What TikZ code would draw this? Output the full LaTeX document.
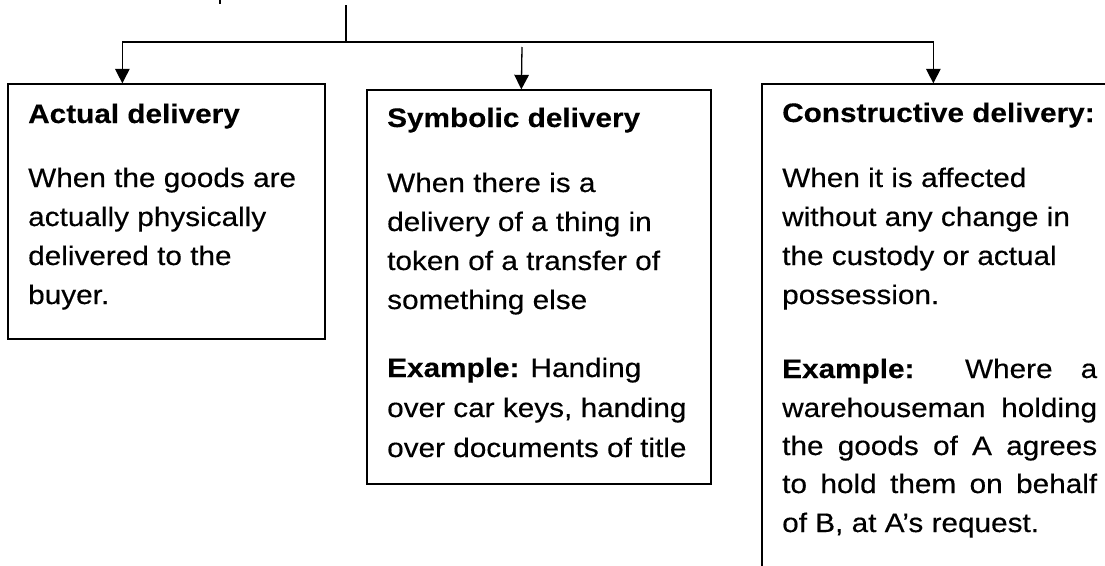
\documentclass[tikz,border=0pt]{standalone}
\usepackage{fontspec}
\setmainfont{Liberation Sans}[FakeStretch=1.11, UprightFeatures={FakeBold=0.35}, BoldFeatures={FakeBold=0.25}]
\usetikzlibrary{arrows.meta}
\tikzset{
  ln/.style={line width=1.3pt, draw=black},
  arr/.style={ln, -{Triangle[width=14.5pt,length=14.5pt]}},
  boxnode/.style={draw=black, line width=1.3pt, rectangle, inner sep=0pt, fill=none},
  txt/.style={anchor=base west, inner sep=0pt, font=\fontsize{26.8}{39}\selectfont},
}
\begin{document}
\begin{tikzpicture}[x=1pt, y=-1pt]
\useasboundingbox (0,0) rectangle (1105,565);
\fill[white] (0,0) rectangle (1105,565);
\clip (0,0) rectangle (1105,565);

% boxes
\node[boxnode, minimum width=317pt, minimum height=255pt] (A) at (166.5,211.5) {};
\node[boxnode, minimum width=344pt, minimum height=394pt] (B) at (539,287) {};
\node[boxnode, minimum width=358pt, minimum height=496pt] (C) at (941,332) {};

% connectors
\coordinate (frag0) at (220,0);
\coordinate (frag1) at (220,4);
\draw[ln] (frag0) -- (frag1);
\coordinate (top) at (346,5);
\coordinate (j) at (346,42);
\coordinate (m0) at (522,47);
\draw[ln] (top) -- (j);
\draw[arr] (j) -| ([xshift=115pt]A.north west);
\draw[arr] (j) -| ([xshift=172pt]C.north west);
\draw[arr] (m0) -- ([xshift=155pt]B.north west);

% box A text
\node[txt] (a0) at (28,123) {\textbf{Actual delivery}};
\node[txt] (a1) at (28,187) {When the goods are};
\node[txt] (a2) at (28,226) {actually physically};
\node[txt] (a3) at (28,265) {delivered to the};
\node[txt] (a4) at (28,304) {buyer.};

% box B text
\node[txt] (b0) at (387,127) {\textbf{Symbolic delivery}};
\node[txt] (b1) at (387,192) {When there is a};
\node[txt] (b2) at (387,231) {delivery of a thing in};
\node[txt] (b3) at (387,270) {token of a transfer of};
\node[txt] (b4) at (387,309) {something else};
\node[txt] (b5) at (387,377) {\textbf{Example:} Handing};
\node[txt] (b6) at (387,417) {over car keys, handing};
\node[txt] (b7) at (387,457) {over documents of title};

% box C text
\node[txt] (c0) at (782,122) {\textbf{Constructive delivery:}};
\node[txt] (c1) at (782,187) {When it is affected};
\node[txt] (c2) at (782,226) {without any change in};
\node[txt] (c3) at (782,265) {the custody or actual};
\node[txt] (c4) at (782,304) {possession.};
\node[txt] (c5) at (782,378) {\makebox[315pt][s]{\textbf{Example:} Where a}};
\node[txt] (c6) at (782,417) {\makebox[315pt][s]{warehouseman holding}};
\node[txt] (c7) at (782,455) {\makebox[315pt][s]{the goods of A agrees}};
\node[txt] (c8) at (782,493) {\makebox[315pt][s]{to hold them on behalf}};
\node[txt] (c9) at (782,532) {of B, at A’s request.};
\end{tikzpicture}
\end{document}
